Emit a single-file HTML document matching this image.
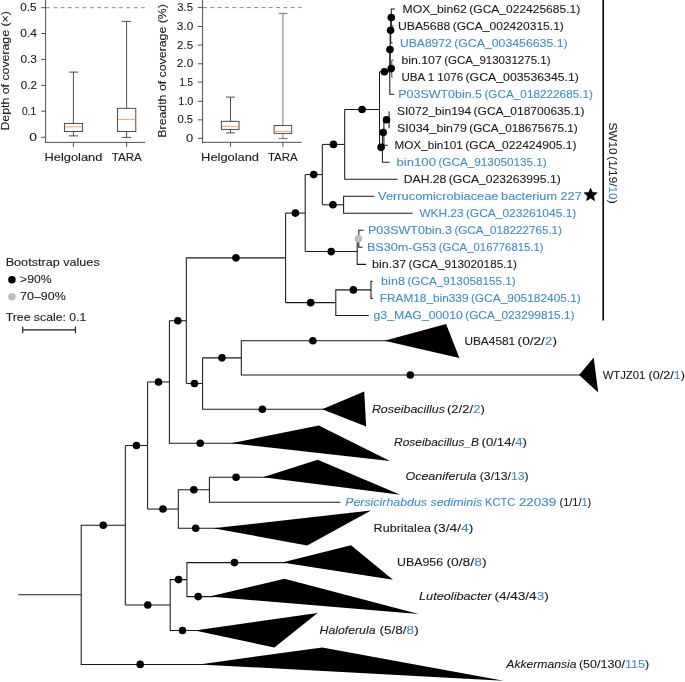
<!DOCTYPE html>
<html><head><meta charset="utf-8"><title>Phylogenetic tree</title>
<style>
html,body{margin:0;padding:0;background:#fff;}
svg{display:block;font-family:"Liberation Sans",sans-serif;will-change:transform;}
</style></head>
<body>
<svg width="685" height="682" viewBox="0 0 685 682">
<rect x="0" y="0" width="685" height="682" fill="#fff"/>
<line x1="45.6" y1="0" x2="45.6" y2="142.85" stroke="#3a3a3a" stroke-width="0.9" />
<line x1="45.15" y1="142.4" x2="145.2" y2="142.4" stroke="#3a3a3a" stroke-width="0.9" />
<line x1="41.2" y1="7.7" x2="45.6" y2="7.7" stroke="#3a3a3a" stroke-width="0.9" />
<text x="20.3" y="11.3" font-size="10.2" textLength="16.3" lengthAdjust="spacingAndGlyphs" xml:space="preserve"><tspan fill="#1a1a1a" stroke="#1a1a1a" stroke-width="0.1">0.5</tspan></text>
<line x1="41.2" y1="33.5" x2="45.6" y2="33.5" stroke="#3a3a3a" stroke-width="0.9" />
<text x="20.3" y="37.1" font-size="10.2" textLength="16.6" lengthAdjust="spacingAndGlyphs" xml:space="preserve"><tspan fill="#1a1a1a" stroke="#1a1a1a" stroke-width="0.1">0.4</tspan></text>
<line x1="41.2" y1="59.4" x2="45.6" y2="59.4" stroke="#3a3a3a" stroke-width="0.9" />
<text x="20.4" y="63" font-size="10.2" textLength="16.5" lengthAdjust="spacingAndGlyphs" xml:space="preserve"><tspan fill="#1a1a1a" stroke="#1a1a1a" stroke-width="0.1">0.3</tspan></text>
<line x1="41.2" y1="85.3" x2="45.6" y2="85.3" stroke="#3a3a3a" stroke-width="0.9" />
<text x="20.7" y="88.9" font-size="10.2" textLength="16.2" lengthAdjust="spacingAndGlyphs" xml:space="preserve"><tspan fill="#1a1a1a" stroke="#1a1a1a" stroke-width="0.1">0.2</tspan></text>
<line x1="41.2" y1="111.2" x2="45.6" y2="111.2" stroke="#3a3a3a" stroke-width="0.9" />
<text x="21.9" y="114.8" font-size="10.2" textLength="14.3" lengthAdjust="spacingAndGlyphs" xml:space="preserve"><tspan fill="#1a1a1a" stroke="#1a1a1a" stroke-width="0.1">0.1</tspan></text>
<line x1="41.2" y1="137.3" x2="45.6" y2="137.3" stroke="#3a3a3a" stroke-width="0.9" />
<text x="29.2" y="140.9" font-size="10.2" textLength="7.7" lengthAdjust="spacingAndGlyphs" xml:space="preserve"><tspan fill="#1a1a1a" stroke="#1a1a1a" stroke-width="0.1">0</tspan></text>
<line x1="46" y1="7.7" x2="145.2" y2="7.7" stroke="#8c8c8c" stroke-width="1.0" stroke-dasharray="4 3.3"/>
<line x1="73.4" y1="72.1" x2="73.4" y2="123.4" stroke="#3a3a3a" stroke-width="0.9" />
<line x1="73.4" y1="131.5" x2="73.4" y2="135.9" stroke="#3a3a3a" stroke-width="0.9" />
<line x1="68.8" y1="72.1" x2="78.1" y2="72.1" stroke="#3a3a3a" stroke-width="0.9" />
<line x1="68.8" y1="135.9" x2="78.1" y2="135.9" stroke="#3a3a3a" stroke-width="0.9" />
<rect x="64.4" y="123.4" width="18.2" height="8.1" fill="#fff" stroke="#3a3a3a" stroke-width="0.9"/>
<line x1="64.9" y1="126.8" x2="82.1" y2="126.8" stroke="#f4a259" stroke-width="1.0" />
<line x1="126.6" y1="21.4" x2="126.6" y2="108.3" stroke="#3a3a3a" stroke-width="0.9" />
<line x1="126.6" y1="131.5" x2="126.6" y2="137.4" stroke="#3a3a3a" stroke-width="0.9" />
<line x1="121.8" y1="21.4" x2="131.1" y2="21.4" stroke="#3a3a3a" stroke-width="0.9" />
<line x1="121.8" y1="137.4" x2="131.1" y2="137.4" stroke="#3a3a3a" stroke-width="0.9" />
<rect x="117.5" y="108.3" width="18.3" height="23.2" fill="#fff" stroke="#3a3a3a" stroke-width="0.9"/>
<line x1="118" y1="119.4" x2="135.3" y2="119.4" stroke="#f4a259" stroke-width="1.0" />
<line x1="73.4" y1="142.4" x2="73.4" y2="146.8" stroke="#3a3a3a" stroke-width="0.9" />
<line x1="126.6" y1="142.4" x2="126.6" y2="146.8" stroke="#3a3a3a" stroke-width="0.9" />
<text x="44.5" y="161" font-size="11.2" textLength="57.9" lengthAdjust="spacingAndGlyphs" xml:space="preserve"><tspan fill="#1a1a1a" stroke="#1a1a1a" stroke-width="0.1">Helgoland</tspan></text>
<text x="111.7" y="161" font-size="11.2" textLength="30.1" lengthAdjust="spacingAndGlyphs" xml:space="preserve"><tspan fill="#1a1a1a" stroke="#1a1a1a" stroke-width="0.1">TARA</tspan></text>
<text transform="translate(9.3,130.6) rotate(-90)" x="0" y="0" font-size="11.2" textLength="119.5" lengthAdjust="spacingAndGlyphs" xml:space="preserve"><tspan fill="#1a1a1a" stroke="#1a1a1a" stroke-width="0.1">Depth of coverage (×)</tspan></text>
<line x1="202.6" y1="0" x2="202.6" y2="142.75" stroke="#3a3a3a" stroke-width="0.9" />
<line x1="202.15" y1="142.3" x2="301.6" y2="142.3" stroke="#3a3a3a" stroke-width="0.9" />
<line x1="197.9" y1="7.6" x2="202.6" y2="7.6" stroke="#3a3a3a" stroke-width="0.9" />
<text x="177.3" y="11.2" font-size="10.2" textLength="15.8" lengthAdjust="spacingAndGlyphs" xml:space="preserve"><tspan fill="#1a1a1a" stroke="#1a1a1a" stroke-width="0.1">3.5</tspan></text>
<line x1="197.9" y1="26.5" x2="202.6" y2="26.5" stroke="#3a3a3a" stroke-width="0.9" />
<text x="176.8" y="30.1" font-size="10.2" textLength="16.4" lengthAdjust="spacingAndGlyphs" xml:space="preserve"><tspan fill="#1a1a1a" stroke="#1a1a1a" stroke-width="0.1">3.0</tspan></text>
<line x1="197.9" y1="45.1" x2="202.6" y2="45.1" stroke="#3a3a3a" stroke-width="0.9" />
<text x="177" y="48.7" font-size="10.2" textLength="16.1" lengthAdjust="spacingAndGlyphs" xml:space="preserve"><tspan fill="#1a1a1a" stroke="#1a1a1a" stroke-width="0.1">2.5</tspan></text>
<line x1="197.9" y1="63.8" x2="202.6" y2="63.8" stroke="#3a3a3a" stroke-width="0.9" />
<text x="176.8" y="67.4" font-size="10.2" textLength="16.4" lengthAdjust="spacingAndGlyphs" xml:space="preserve"><tspan fill="#1a1a1a" stroke="#1a1a1a" stroke-width="0.1">2.0</tspan></text>
<line x1="197.9" y1="82.1" x2="202.6" y2="82.1" stroke="#3a3a3a" stroke-width="0.9" />
<text x="179.4" y="85.7" font-size="10.2" textLength="13.6" lengthAdjust="spacingAndGlyphs" xml:space="preserve"><tspan fill="#1a1a1a" stroke="#1a1a1a" stroke-width="0.1">1.5</tspan></text>
<line x1="197.9" y1="101.3" x2="202.6" y2="101.3" stroke="#3a3a3a" stroke-width="0.9" />
<text x="178.2" y="104.9" font-size="10.2" textLength="15" lengthAdjust="spacingAndGlyphs" xml:space="preserve"><tspan fill="#1a1a1a" stroke="#1a1a1a" stroke-width="0.1">1.0</tspan></text>
<line x1="197.9" y1="119.85" x2="202.6" y2="119.85" stroke="#3a3a3a" stroke-width="0.9" />
<text x="177.4" y="123.45" font-size="10.2" textLength="15.6" lengthAdjust="spacingAndGlyphs" xml:space="preserve"><tspan fill="#1a1a1a" stroke="#1a1a1a" stroke-width="0.1">0.5</tspan></text>
<line x1="197.9" y1="138.3" x2="202.6" y2="138.3" stroke="#3a3a3a" stroke-width="0.9" />
<text x="186" y="141.9" font-size="10.2" textLength="7.2" lengthAdjust="spacingAndGlyphs" xml:space="preserve"><tspan fill="#1a1a1a" stroke="#1a1a1a" stroke-width="0.1">0</tspan></text>
<line x1="203" y1="7.6" x2="301.6" y2="7.6" stroke="#8c8c8c" stroke-width="1.0" stroke-dasharray="4 3.3"/>
<line x1="230.5" y1="97.1" x2="230.5" y2="121.3" stroke="#3a3a3a" stroke-width="0.9" />
<line x1="230.5" y1="129.4" x2="230.5" y2="132.9" stroke="#3a3a3a" stroke-width="0.9" />
<line x1="226" y1="97.1" x2="234.8" y2="97.1" stroke="#3a3a3a" stroke-width="0.9" />
<line x1="226" y1="132.9" x2="234.8" y2="132.9" stroke="#3a3a3a" stroke-width="0.9" />
<rect x="221.4" y="121.3" width="17.6" height="8.1" fill="#fff" stroke="#3a3a3a" stroke-width="0.9"/>
<line x1="221.9" y1="126.4" x2="238.5" y2="126.4" stroke="#f4a259" stroke-width="1.0" />
<line x1="282.9" y1="13.4" x2="282.9" y2="125.6" stroke="#6a6a6a" stroke-width="0.9" />
<line x1="282.9" y1="133.4" x2="282.9" y2="138.5" stroke="#6a6a6a" stroke-width="0.9" />
<line x1="278.6" y1="13.4" x2="287.5" y2="13.4" stroke="#6a6a6a" stroke-width="0.9" />
<line x1="278.6" y1="138.5" x2="287.5" y2="138.5" stroke="#6a6a6a" stroke-width="0.9" />
<rect x="274.1" y="125.6" width="17.6" height="7.8" fill="#fff" stroke="#3a3a3a" stroke-width="0.9"/>
<line x1="274.6" y1="131.4" x2="291.2" y2="131.4" stroke="#f4a259" stroke-width="1.0" />
<line x1="230.5" y1="142.3" x2="230.5" y2="146.7" stroke="#3a3a3a" stroke-width="0.9" />
<line x1="282.9" y1="142.3" x2="282.9" y2="146.7" stroke="#3a3a3a" stroke-width="0.9" />
<text x="201.1" y="161" font-size="11.2" textLength="57.9" lengthAdjust="spacingAndGlyphs" xml:space="preserve"><tspan fill="#1a1a1a" stroke="#1a1a1a" stroke-width="0.1">Helgoland</tspan></text>
<text x="267.9" y="161" font-size="11.2" textLength="29.7" lengthAdjust="spacingAndGlyphs" xml:space="preserve"><tspan fill="#1a1a1a" stroke="#1a1a1a" stroke-width="0.1">TARA</tspan></text>
<text transform="translate(166,137.7) rotate(-90)" x="0" y="0" font-size="11.2" textLength="133.6" lengthAdjust="spacingAndGlyphs" xml:space="preserve"><tspan fill="#1a1a1a" stroke="#1a1a1a" stroke-width="0.1">Breadth of coverage (%)</tspan></text>
<text x="5.7" y="266.4" font-size="11.6" textLength="94" lengthAdjust="spacingAndGlyphs" xml:space="preserve"><tspan fill="#1a1a1a" stroke="#1a1a1a" stroke-width="0.1">Bootstrap values</tspan></text>
<circle cx="11.9" cy="279.7" r="3.75" fill="#000"/>
<text x="20.1" y="283" font-size="11.6" textLength="31.4" lengthAdjust="spacingAndGlyphs" xml:space="preserve"><tspan fill="#1a1a1a" stroke="#1a1a1a" stroke-width="0.1">&gt;90%</tspan></text>
<circle cx="11.9" cy="296.8" r="3.75" fill="#bdbdbd"/>
<text x="20.1" y="300.1" font-size="11.6" textLength="45.6" lengthAdjust="spacingAndGlyphs" xml:space="preserve"><tspan fill="#1a1a1a" stroke="#1a1a1a" stroke-width="0.1">70–90%</tspan></text>
<text x="5.7" y="321" font-size="11.6" textLength="80.7" lengthAdjust="spacingAndGlyphs" xml:space="preserve"><tspan fill="#1a1a1a" stroke="#1a1a1a" stroke-width="0.1">Tree scale: 0.1</tspan></text>
<line x1="22.7" y1="329.9" x2="75.4" y2="329.9" stroke="#1a1a1a" stroke-width="1.1" />
<line x1="22.7" y1="326.6" x2="22.7" y2="333.2" stroke="#1a1a1a" stroke-width="1.1" />
<line x1="75.4" y1="326.6" x2="75.4" y2="333.2" stroke="#1a1a1a" stroke-width="1.1" />
<path d="M394.9 9.05H391.3V26.07H393.5" fill="none" stroke="#1a1a1a" stroke-width="1.05" />
<path d="M391.3 17.56H390.7V43.09H392.5" fill="none" stroke="#1a1a1a" stroke-width="1.05" />
<path d="M390.7 30.33H390.2V68.62H391.8" fill="none" stroke="#1a1a1a" stroke-width="1.05" />
<path d="M393.5 60.11H391.8V77.13H392.6" fill="none" stroke="#1a1a1a" stroke-width="0.8" />
<path d="M390.2 49.47H389.8V94.15H394.3" fill="none" stroke="#1a1a1a" stroke-width="1.05" />
<line x1="379.5" y1="71.81" x2="389.8" y2="71.81" stroke="#1a1a1a" stroke-width="1.05" />
<path d="M389.1 111.17V128.19" fill="none" stroke="#1a1a1a" stroke-width="1.05" />
<line x1="383.9" y1="119.68" x2="389.1" y2="119.68" stroke="#1a1a1a" stroke-width="1.05" />
<path d="M383.9 119.68V145.21H387.8" fill="none" stroke="#1a1a1a" stroke-width="1.05" />
<line x1="382.4" y1="132.44" x2="383.9" y2="132.44" stroke="#1a1a1a" stroke-width="1.05" />
<path d="M382.4 132.44V162.23H389.6" fill="none" stroke="#1a1a1a" stroke-width="1.05" />
<line x1="379.5" y1="147.34" x2="382.4" y2="147.34" stroke="#1a1a1a" stroke-width="1.05" />
<line x1="379.5" y1="71.81" x2="379.5" y2="147.34" stroke="#1a1a1a" stroke-width="1.05" />
<line x1="344.7" y1="109.57" x2="379.5" y2="109.57" stroke="#1a1a1a" stroke-width="1.05" />
<path d="M344.7 109.57V179.25H397.6" fill="none" stroke="#1a1a1a" stroke-width="1.05" />
<line x1="322.3" y1="144.41" x2="344.7" y2="144.41" stroke="#1a1a1a" stroke-width="1.05" />
<path d="M374.3 196.27H343.6V213.29H412.7" fill="none" stroke="#1a1a1a" stroke-width="1.05" />
<line x1="322.3" y1="204.78" x2="343.6" y2="204.78" stroke="#1a1a1a" stroke-width="1.05" />
<line x1="322.3" y1="144.41" x2="322.3" y2="204.78" stroke="#1a1a1a" stroke-width="1.05" />
<line x1="305.2" y1="174.6" x2="322.3" y2="174.6" stroke="#1a1a1a" stroke-width="1.05" />
<path d="M363.5 230.31H358.8V247.33H362.5" fill="none" stroke="#1a1a1a" stroke-width="1.05" />
<line x1="357.2" y1="238.82" x2="358.8" y2="238.82" stroke="#1a1a1a" stroke-width="1.05" />
<path d="M357.2 238.82V264.35H366.2" fill="none" stroke="#1a1a1a" stroke-width="1.05" />
<line x1="305.2" y1="251.58" x2="357.2" y2="251.58" stroke="#1a1a1a" stroke-width="1.05" />
<line x1="305.2" y1="174.6" x2="305.2" y2="251.58" stroke="#1a1a1a" stroke-width="1.05" />
<line x1="285.6" y1="213.09" x2="305.2" y2="213.09" stroke="#1a1a1a" stroke-width="1.05" />
<path d="M372.6 281.37H371.0V298.39H372.6" fill="none" stroke="#1a1a1a" stroke-width="1.05" />
<path d="M371.0 289.88H335.8V315.41H368.7" fill="none" stroke="#1a1a1a" stroke-width="1.05" />
<line x1="285.6" y1="302.64" x2="335.8" y2="302.64" stroke="#1a1a1a" stroke-width="1.05" />
<line x1="285.6" y1="213.09" x2="285.6" y2="302.64" stroke="#1a1a1a" stroke-width="1.05" />
<line x1="186.3" y1="257.87" x2="285.6" y2="257.87" stroke="#1a1a1a" stroke-width="1.05" />
<path d="M388.5 340.7H241.3V375.0H582" fill="none" stroke="#1a1a1a" stroke-width="1.05" />
<line x1="202.6" y1="357.85" x2="241.3" y2="357.85" stroke="#1a1a1a" stroke-width="1.05" />
<path d="M202.6 357.85V409.2H325.5" fill="none" stroke="#1a1a1a" stroke-width="1.05" />
<line x1="186.3" y1="383.52" x2="202.6" y2="383.52" stroke="#1a1a1a" stroke-width="1.05" />
<line x1="186.3" y1="257.87" x2="186.3" y2="383.52" stroke="#1a1a1a" stroke-width="1.05" />
<line x1="169.4" y1="320.7" x2="186.3" y2="320.7" stroke="#1a1a1a" stroke-width="1.05" />
<path d="M169.4 320.7V443.2H236" fill="none" stroke="#1a1a1a" stroke-width="1.05" />
<line x1="147.6" y1="381.95" x2="169.4" y2="381.95" stroke="#1a1a1a" stroke-width="1.05" />
<path d="M266.5 477.3H209.4V502.3H340.4" fill="none" stroke="#1a1a1a" stroke-width="1.05" />
<path d="M209.4 489.8H178.3V528.3H218" fill="none" stroke="#1a1a1a" stroke-width="1.05" />
<line x1="147.6" y1="509.05" x2="178.3" y2="509.05" stroke="#1a1a1a" stroke-width="1.05" />
<line x1="147.6" y1="381.95" x2="147.6" y2="509.05" stroke="#1a1a1a" stroke-width="1.05" />
<line x1="125.3" y1="445.5" x2="147.6" y2="445.5" stroke="#1a1a1a" stroke-width="1.05" />
<path d="M286 562.6H186.9V596.6H214" fill="none" stroke="#1a1a1a" stroke-width="1.05" />
<path d="M186.9 579.6H170.2V630.5H199" fill="none" stroke="#1a1a1a" stroke-width="1.05" />
<line x1="125.3" y1="605.05" x2="170.2" y2="605.05" stroke="#1a1a1a" stroke-width="1.05" />
<line x1="125.3" y1="445.5" x2="125.3" y2="605.05" stroke="#1a1a1a" stroke-width="1.05" />
<path d="M125.3 525.27H81.2V664.4H205" fill="none" stroke="#1a1a1a" stroke-width="1.05" />
<line x1="18.2" y1="594.84" x2="81.2" y2="594.84" stroke="#1a1a1a" stroke-width="1.05" />
<polygon points="384.4,340.7 446.1,323.9 459.4,357.9" fill="#000"/>
<polygon points="579.1,375 593.7,357.4 598.2,392.5" fill="#000"/>
<polygon points="322.1,409.2 364.2,391.5 366.2,426.5" fill="#000"/>
<polygon points="231.1,443.2 318.8,425.5 390,460.9" fill="#000"/>
<polygon points="262.8,477.3 317.7,459.8 400.3,494.7" fill="#000"/>
<polygon points="213.1,528.3 371,510.4 307.2,545.4" fill="#000"/>
<polygon points="282,562.6 351,545.2 393,579.8" fill="#000"/>
<polygon points="209.4,596.6 284.5,578.7 418.6,614" fill="#000"/>
<polygon points="194.8,630.5 317.6,612.9 274.4,647.5" fill="#000"/>
<polygon points="199,664.4 322.2,647.5 503.6,680.8" fill="#000"/>
<circle cx="391.3" cy="17.56" r="3.8" fill="#000"/>
<circle cx="390.6" cy="30.33" r="3.8" fill="#000"/>
<circle cx="390" cy="49.47" r="3.8" fill="#000"/>
<circle cx="391.2" cy="68.62" r="3.8" fill="#000"/>
<circle cx="384.4" cy="71.81" r="3.8" fill="#000"/>
<circle cx="386.5" cy="119.68" r="3.8" fill="#000"/>
<circle cx="383.2" cy="132.44" r="3.8" fill="#000"/>
<circle cx="381.1" cy="147.34" r="3.8" fill="#000"/>
<circle cx="362.1" cy="109.57" r="3.8" fill="#000"/>
<circle cx="333.5" cy="144.41" r="3.8" fill="#000"/>
<circle cx="332.95" cy="204.78" r="3.8" fill="#000"/>
<circle cx="313.75" cy="174.6" r="3.8" fill="#000"/>
<circle cx="331.2" cy="251.58" r="3.8" fill="#000"/>
<circle cx="295.4" cy="213.09" r="3.8" fill="#000"/>
<circle cx="353.4" cy="289.88" r="3.8" fill="#000"/>
<circle cx="310.7" cy="302.64" r="3.8" fill="#000"/>
<circle cx="235.95" cy="257.87" r="3.8" fill="#000"/>
<circle cx="312.85" cy="340.7" r="3.8" fill="#000"/>
<circle cx="410.3" cy="375" r="3.8" fill="#000"/>
<circle cx="221.95" cy="357.85" r="3.8" fill="#000"/>
<circle cx="262.35" cy="409.2" r="3.8" fill="#000"/>
<circle cx="194.45" cy="383.52" r="3.8" fill="#000"/>
<circle cx="177.85" cy="320.7" r="3.8" fill="#000"/>
<circle cx="200.25" cy="443.2" r="3.8" fill="#000"/>
<circle cx="158.5" cy="381.95" r="3.8" fill="#000"/>
<circle cx="236.1" cy="477.3" r="3.8" fill="#000"/>
<circle cx="193.85" cy="489.8" r="3.8" fill="#000"/>
<circle cx="195.7" cy="528.3" r="3.8" fill="#000"/>
<circle cx="162.95" cy="509.05" r="3.8" fill="#000"/>
<circle cx="136.45" cy="445.5" r="3.8" fill="#000"/>
<circle cx="234.45" cy="562.6" r="3.8" fill="#000"/>
<circle cx="198.15" cy="596.6" r="3.8" fill="#000"/>
<circle cx="178.55" cy="579.6" r="3.8" fill="#000"/>
<circle cx="182.5" cy="630.5" r="3.8" fill="#000"/>
<circle cx="147.75" cy="605.05" r="3.8" fill="#000"/>
<circle cx="103.25" cy="525.27" r="3.8" fill="#000"/>
<circle cx="140.2" cy="664.4" r="3.8" fill="#000"/>
<circle cx="358.4" cy="238.82" r="3.8" fill="#bdbdbd"/>
<text x="402.5" y="12.65" font-size="11.4" textLength="64.4" lengthAdjust="spacingAndGlyphs" xml:space="preserve"><tspan fill="#1a1a1a" stroke="#1a1a1a" stroke-width="0.1">MOX_bin62</tspan></text>
<text x="469.3" y="12.75" font-size="11.6" textLength="110.9" lengthAdjust="spacingAndGlyphs" xml:space="preserve"><tspan fill="#1a1a1a" stroke="#1a1a1a" stroke-width="0.1">(GCA_022425685.1)</tspan></text>
<text x="397.9" y="29.67" font-size="11.4" textLength="52.4" lengthAdjust="spacingAndGlyphs" xml:space="preserve"><tspan fill="#1a1a1a" stroke="#1a1a1a" stroke-width="0.1">UBA5688</tspan></text>
<text x="452.7" y="29.77" font-size="11.6" textLength="111.2" lengthAdjust="spacingAndGlyphs" xml:space="preserve"><tspan fill="#1a1a1a" stroke="#1a1a1a" stroke-width="0.1">(GCA_002420315.1)</tspan></text>
<text x="400" y="46.69" font-size="11.4" textLength="51.8" lengthAdjust="spacingAndGlyphs" xml:space="preserve"><tspan fill="#3d8fc6" stroke="#3d8fc6" stroke-width="0.1">UBA8972</tspan></text>
<text x="454.2" y="46.79" font-size="11.6" textLength="113.4" lengthAdjust="spacingAndGlyphs" xml:space="preserve"><tspan fill="#3d8fc6" stroke="#3d8fc6" stroke-width="0.1">(GCA_003456635.1)</tspan></text>
<text x="401.4" y="63.71" font-size="11.4" textLength="40.4" lengthAdjust="spacingAndGlyphs" xml:space="preserve"><tspan fill="#1a1a1a" stroke="#1a1a1a" stroke-width="0.1">bin.107</tspan></text>
<text x="444.2" y="63.81" font-size="11.6" textLength="106.3" lengthAdjust="spacingAndGlyphs" xml:space="preserve"><tspan fill="#1a1a1a" stroke="#1a1a1a" stroke-width="0.1">(GCA_913031275.1)</tspan></text>
<text x="401.4" y="80.73" font-size="11.4" textLength="61.7" lengthAdjust="spacingAndGlyphs" xml:space="preserve"><tspan fill="#1a1a1a" stroke="#1a1a1a" stroke-width="0.1">UBA 1 1076</tspan></text>
<text x="465.5" y="80.83" font-size="11.6" textLength="113.4" lengthAdjust="spacingAndGlyphs" xml:space="preserve"><tspan fill="#1a1a1a" stroke="#1a1a1a" stroke-width="0.1">(GCA_003536345.1)</tspan></text>
<text x="398.3" y="97.75" font-size="11.4" textLength="83.7" lengthAdjust="spacingAndGlyphs" xml:space="preserve"><tspan fill="#3d8fc6" stroke="#3d8fc6" stroke-width="0.1">P03SWT0bin.5</tspan></text>
<text x="484.4" y="97.85" font-size="11.6" textLength="108.6" lengthAdjust="spacingAndGlyphs" xml:space="preserve"><tspan fill="#3d8fc6" stroke="#3d8fc6" stroke-width="0.1">(GCA_018222685.1)</tspan></text>
<text x="397" y="114.77" font-size="11.4" textLength="74.2" lengthAdjust="spacingAndGlyphs" xml:space="preserve"><tspan fill="#1a1a1a" stroke="#1a1a1a" stroke-width="0.1">SI072_bin194</tspan></text>
<text x="473.6" y="114.87" font-size="11.6" textLength="110.9" lengthAdjust="spacingAndGlyphs" xml:space="preserve"><tspan fill="#1a1a1a" stroke="#1a1a1a" stroke-width="0.1">(GCA_018700635.1)</tspan></text>
<text x="397" y="131.79" font-size="11.4" textLength="69.9" lengthAdjust="spacingAndGlyphs" xml:space="preserve"><tspan fill="#1a1a1a" stroke="#1a1a1a" stroke-width="0.1">SI034_bin79</tspan></text>
<text x="469.3" y="131.89" font-size="11.6" textLength="108.4" lengthAdjust="spacingAndGlyphs" xml:space="preserve"><tspan fill="#1a1a1a" stroke="#1a1a1a" stroke-width="0.1">(GCA_018675675.1)</tspan></text>
<text x="394.5" y="148.81" font-size="11.4" textLength="68.4" lengthAdjust="spacingAndGlyphs" xml:space="preserve"><tspan fill="#1a1a1a" stroke="#1a1a1a" stroke-width="0.1">MOX_bin101</tspan></text>
<text x="465.3" y="148.91" font-size="11.6" textLength="111.1" lengthAdjust="spacingAndGlyphs" xml:space="preserve"><tspan fill="#1a1a1a" stroke="#1a1a1a" stroke-width="0.1">(GCA_022424905.1)</tspan></text>
<text x="396.5" y="165.83" font-size="11.4" textLength="39.5" lengthAdjust="spacingAndGlyphs" xml:space="preserve"><tspan fill="#3d8fc6" stroke="#3d8fc6" stroke-width="0.1">bin100</tspan></text>
<text x="438.4" y="165.93" font-size="11.6" textLength="108.4" lengthAdjust="spacingAndGlyphs" xml:space="preserve"><tspan fill="#3d8fc6" stroke="#3d8fc6" stroke-width="0.1">(GCA_913050135.1)</tspan></text>
<text x="403.8" y="182.85" font-size="11.4" textLength="42.6" lengthAdjust="spacingAndGlyphs" xml:space="preserve"><tspan fill="#1a1a1a" stroke="#1a1a1a" stroke-width="0.1">DAH.28</tspan></text>
<text x="448.8" y="182.95" font-size="11.6" textLength="111.9" lengthAdjust="spacingAndGlyphs" xml:space="preserve"><tspan fill="#1a1a1a" stroke="#1a1a1a" stroke-width="0.1">(GCA_023263995.1)</tspan></text>
<text x="419.4" y="216.89" font-size="11.4" textLength="44.1" lengthAdjust="spacingAndGlyphs" xml:space="preserve"><tspan fill="#3d8fc6" stroke="#3d8fc6" stroke-width="0.1">WKH.23</tspan></text>
<text x="465.9" y="216.99" font-size="11.6" textLength="110.4" lengthAdjust="spacingAndGlyphs" xml:space="preserve"><tspan fill="#3d8fc6" stroke="#3d8fc6" stroke-width="0.1">(GCA_023261045.1)</tspan></text>
<text x="368" y="233.91" font-size="11.4" textLength="84" lengthAdjust="spacingAndGlyphs" xml:space="preserve"><tspan fill="#3d8fc6" stroke="#3d8fc6" stroke-width="0.1">P03SWT0bin.3</tspan></text>
<text x="454.4" y="234.01" font-size="11.6" textLength="107.6" lengthAdjust="spacingAndGlyphs" xml:space="preserve"><tspan fill="#3d8fc6" stroke="#3d8fc6" stroke-width="0.1">(GCA_018222765.1)</tspan></text>
<text x="366.9" y="250.93" font-size="11.4" textLength="69.5" lengthAdjust="spacingAndGlyphs" xml:space="preserve"><tspan fill="#3d8fc6" stroke="#3d8fc6" stroke-width="0.1">BS30m-G53</tspan></text>
<text x="438.8" y="251.03" font-size="11.6" textLength="104.8" lengthAdjust="spacingAndGlyphs" xml:space="preserve"><tspan fill="#3d8fc6" stroke="#3d8fc6" stroke-width="0.1">(GCA_016776815.1)</tspan></text>
<text x="372.1" y="267.95" font-size="11.4" textLength="34.1" lengthAdjust="spacingAndGlyphs" xml:space="preserve"><tspan fill="#1a1a1a" stroke="#1a1a1a" stroke-width="0.1">bin.37</tspan></text>
<text x="408.6" y="268.05" font-size="11.6" textLength="108.3" lengthAdjust="spacingAndGlyphs" xml:space="preserve"><tspan fill="#1a1a1a" stroke="#1a1a1a" stroke-width="0.1">(GCA_913020185.1)</tspan></text>
<text x="381.1" y="284.97" font-size="11.4" textLength="23.9" lengthAdjust="spacingAndGlyphs" xml:space="preserve"><tspan fill="#3d8fc6" stroke="#3d8fc6" stroke-width="0.1">bin8</tspan></text>
<text x="407.4" y="285.07" font-size="11.6" textLength="108.4" lengthAdjust="spacingAndGlyphs" xml:space="preserve"><tspan fill="#3d8fc6" stroke="#3d8fc6" stroke-width="0.1">(GCA_913058155.1)</tspan></text>
<text x="379.8" y="301.99" font-size="11.4" textLength="88.7" lengthAdjust="spacingAndGlyphs" xml:space="preserve"><tspan fill="#3d8fc6" stroke="#3d8fc6" stroke-width="0.1">FRAM18_bin339</tspan></text>
<text x="470.9" y="302.09" font-size="11.6" textLength="109.9" lengthAdjust="spacingAndGlyphs" xml:space="preserve"><tspan fill="#3d8fc6" stroke="#3d8fc6" stroke-width="0.1">(GCA_905182405.1)</tspan></text>
<text x="373.5" y="319.01" font-size="11.4" textLength="89.3" lengthAdjust="spacingAndGlyphs" xml:space="preserve"><tspan fill="#3d8fc6" stroke="#3d8fc6" stroke-width="0.1">g3_MAG_00010</tspan></text>
<text x="465.2" y="319.11" font-size="11.6" textLength="109.3" lengthAdjust="spacingAndGlyphs" xml:space="preserve"><tspan fill="#3d8fc6" stroke="#3d8fc6" stroke-width="0.1">(GCA_023299815.1)</tspan></text>
<text x="378.1" y="199.87" font-size="11.1" textLength="120.4" lengthAdjust="spacingAndGlyphs" xml:space="preserve"><tspan fill="#3d8fc6" stroke="#3d8fc6" stroke-width="0.1">Verrucomicrobiaceae</tspan></text>
<text x="501.1" y="199.87" font-size="11.1" textLength="80.7" lengthAdjust="spacingAndGlyphs" xml:space="preserve"><tspan fill="#3d8fc6" stroke="#3d8fc6" stroke-width="0.1">bacterium 227</tspan></text>
<polygon points="590.6,188 592.51,192.37 597.26,192.84 593.69,196 594.71,200.66 590.6,198.25 586.49,200.66 587.51,196 583.94,192.84 588.69,192.37" fill="#000" stroke="#000" stroke-width="0.5" stroke-linejoin="round"/>
<line x1="603.2" y1="0" x2="603.2" y2="320.6" stroke="#111" stroke-width="1.7" />
<text transform="translate(609,122.5) rotate(90)" x="0" y="0" font-size="11.8" textLength="32.1" lengthAdjust="spacingAndGlyphs" xml:space="preserve"><tspan fill="#1a1a1a" stroke="#1a1a1a" stroke-width="0.1">SW10</tspan></text>
<text transform="translate(609,156.3) rotate(90)" x="0" y="0" font-size="11.8" textLength="47.3" lengthAdjust="spacingAndGlyphs" xml:space="preserve"><tspan fill="#1a1a1a" stroke="#1a1a1a" stroke-width="0.1">(1/19/</tspan><tspan fill="#3d8fc6" stroke="#3d8fc6" stroke-width="0.1">10</tspan><tspan fill="#1a1a1a" stroke="#1a1a1a" stroke-width="0.1">)</tspan></text>
<text x="464.4" y="344.8" font-size="11.2" textLength="50.8" lengthAdjust="spacingAndGlyphs" xml:space="preserve"><tspan fill="#1a1a1a" stroke="#1a1a1a" stroke-width="0.1">UBA4581</tspan></text>
<text x="517.6" y="344.8" font-size="11.6" textLength="39.4" lengthAdjust="spacingAndGlyphs" xml:space="preserve"><tspan fill="#1a1a1a" stroke="#1a1a1a" stroke-width="0.1">(0/2/</tspan><tspan fill="#3d8fc6" stroke="#3d8fc6" stroke-width="0.1">2</tspan><tspan fill="#1a1a1a" stroke="#1a1a1a" stroke-width="0.1">)</tspan></text>
<text x="602.7" y="378.7" font-size="11.2" textLength="42.6" lengthAdjust="spacingAndGlyphs" xml:space="preserve"><tspan fill="#1a1a1a" stroke="#1a1a1a" stroke-width="0.1">WTJZ01</tspan></text>
<text x="648.6" y="378.7" font-size="11.6" textLength="36.3" lengthAdjust="spacingAndGlyphs" xml:space="preserve"><tspan fill="#1a1a1a" stroke="#1a1a1a" stroke-width="0.1">(0/2/</tspan><tspan fill="#3d8fc6" stroke="#3d8fc6" stroke-width="0.1">1</tspan><tspan fill="#1a1a1a" stroke="#1a1a1a" stroke-width="0.1">)</tspan></text>
<text x="371.9" y="412.7" font-size="11.2" textLength="73" lengthAdjust="spacingAndGlyphs" xml:space="preserve"><tspan fill="#1a1a1a" stroke="#1a1a1a" stroke-width="0.1" font-style="italic">Roseibacillus</tspan></text>
<text x="447" y="412.7" font-size="11.6" textLength="37.8" lengthAdjust="spacingAndGlyphs" xml:space="preserve"><tspan fill="#1a1a1a" stroke="#1a1a1a" stroke-width="0.1">(2/2/</tspan><tspan fill="#3d8fc6" stroke="#3d8fc6" stroke-width="0.1">2</tspan><tspan fill="#1a1a1a" stroke="#1a1a1a" stroke-width="0.1">)</tspan></text>
<text x="394" y="446.3" font-size="11.2" textLength="85" lengthAdjust="spacingAndGlyphs" xml:space="preserve"><tspan fill="#1a1a1a" stroke="#1a1a1a" stroke-width="0.1" font-style="italic">Roseibacillus_B</tspan></text>
<text x="481.5" y="446.3" font-size="11.6" textLength="45.4" lengthAdjust="spacingAndGlyphs" xml:space="preserve"><tspan fill="#1a1a1a" stroke="#1a1a1a" stroke-width="0.1">(0/14/</tspan><tspan fill="#3d8fc6" stroke="#3d8fc6" stroke-width="0.1">4</tspan><tspan fill="#1a1a1a" stroke="#1a1a1a" stroke-width="0.1">)</tspan></text>
<text x="405.4" y="480.3" font-size="11.2" textLength="71" lengthAdjust="spacingAndGlyphs" xml:space="preserve"><tspan fill="#1a1a1a" stroke="#1a1a1a" stroke-width="0.1" font-style="italic">Oceaniferula</tspan></text>
<text x="479.8" y="480.3" font-size="11.6" textLength="48.8" lengthAdjust="spacingAndGlyphs" xml:space="preserve"><tspan fill="#1a1a1a" stroke="#1a1a1a" stroke-width="0.1">(3/13/</tspan><tspan fill="#3d8fc6" stroke="#3d8fc6" stroke-width="0.1">13</tspan><tspan fill="#1a1a1a" stroke="#1a1a1a" stroke-width="0.1">)</tspan></text>
<text x="345.2" y="506.2" font-size="11.1" textLength="81.8" lengthAdjust="spacingAndGlyphs" xml:space="preserve"><tspan fill="#3d8fc6" stroke="#3d8fc6" stroke-width="0.1" font-style="italic">Persicirhabdus</tspan></text>
<text x="430.5" y="506.2" font-size="11.1" textLength="51.7" lengthAdjust="spacingAndGlyphs" xml:space="preserve"><tspan fill="#3d8fc6" stroke="#3d8fc6" stroke-width="0.1" font-style="italic">sediminis</tspan></text>
<text x="485" y="506.2" font-size="11.1" textLength="30.2" lengthAdjust="spacingAndGlyphs" xml:space="preserve"><tspan fill="#3d8fc6" stroke="#3d8fc6" stroke-width="0.1">KCTC</tspan></text>
<text x="518.9" y="506.2" font-size="11.6" textLength="37.3" lengthAdjust="spacingAndGlyphs" xml:space="preserve"><tspan fill="#3d8fc6" stroke="#3d8fc6" stroke-width="0.1">22039</tspan></text>
<text x="559.5" y="506.2" font-size="11.6" textLength="31.7" lengthAdjust="spacingAndGlyphs" xml:space="preserve"><tspan fill="#1a1a1a" stroke="#1a1a1a" stroke-width="0.1">(1/1/</tspan><tspan fill="#3d8fc6" stroke="#3d8fc6" stroke-width="0.1">1</tspan><tspan fill="#1a1a1a" stroke="#1a1a1a" stroke-width="0.1">)</tspan></text>
<text x="373.6" y="531.5" font-size="11.2" textLength="57.3" lengthAdjust="spacingAndGlyphs" xml:space="preserve"><tspan fill="#1a1a1a" stroke="#1a1a1a" stroke-width="0.1">Rubritalea</tspan></text>
<text x="433.5" y="531.5" font-size="11.6" textLength="39.9" lengthAdjust="spacingAndGlyphs" xml:space="preserve"><tspan fill="#1a1a1a" stroke="#1a1a1a" stroke-width="0.1">(3/4/</tspan><tspan fill="#3d8fc6" stroke="#3d8fc6" stroke-width="0.1">4</tspan><tspan fill="#1a1a1a" stroke="#1a1a1a" stroke-width="0.1">)</tspan></text>
<text x="397.1" y="565.5" font-size="11.2" textLength="46" lengthAdjust="spacingAndGlyphs" xml:space="preserve"><tspan fill="#1a1a1a" stroke="#1a1a1a" stroke-width="0.1">UBA956</tspan></text>
<text x="446.4" y="565.5" font-size="11.6" textLength="40.2" lengthAdjust="spacingAndGlyphs" xml:space="preserve"><tspan fill="#1a1a1a" stroke="#1a1a1a" stroke-width="0.1">(0/8/</tspan><tspan fill="#3d8fc6" stroke="#3d8fc6" stroke-width="0.1">8</tspan><tspan fill="#1a1a1a" stroke="#1a1a1a" stroke-width="0.1">)</tspan></text>
<text x="419" y="599.6" font-size="11.2" textLength="72.8" lengthAdjust="spacingAndGlyphs" xml:space="preserve"><tspan fill="#1a1a1a" stroke="#1a1a1a" stroke-width="0.1" font-style="italic">Luteolibacter</tspan></text>
<text x="494.4" y="599.6" font-size="11.6" textLength="54.4" lengthAdjust="spacingAndGlyphs" xml:space="preserve"><tspan fill="#1a1a1a" stroke="#1a1a1a" stroke-width="0.1">(4/43/4</tspan><tspan fill="#3d8fc6" stroke="#3d8fc6" stroke-width="0.1">3</tspan><tspan fill="#1a1a1a" stroke="#1a1a1a" stroke-width="0.1">)</tspan></text>
<text x="319.6" y="633.6" font-size="11.2" textLength="55.9" lengthAdjust="spacingAndGlyphs" xml:space="preserve"><tspan fill="#1a1a1a" stroke="#1a1a1a" stroke-width="0.1" font-style="italic">Haloferula</tspan></text>
<text x="379.4" y="633.6" font-size="11.6" textLength="39.3" lengthAdjust="spacingAndGlyphs" xml:space="preserve"><tspan fill="#1a1a1a" stroke="#1a1a1a" stroke-width="0.1">(5/8/</tspan><tspan fill="#3d8fc6" stroke="#3d8fc6" stroke-width="0.1">8</tspan><tspan fill="#1a1a1a" stroke="#1a1a1a" stroke-width="0.1">)</tspan></text>
<text x="506.3" y="667.6" font-size="11.2" textLength="70.2" lengthAdjust="spacingAndGlyphs" xml:space="preserve"><tspan fill="#1a1a1a" stroke="#1a1a1a" stroke-width="0.1" font-style="italic">Akkermansia</tspan></text>
<text x="578.9" y="667.6" font-size="11.6" textLength="70.2" lengthAdjust="spacingAndGlyphs" xml:space="preserve"><tspan fill="#1a1a1a" stroke="#1a1a1a" stroke-width="0.1">(50/130/</tspan><tspan fill="#3d8fc6" stroke="#3d8fc6" stroke-width="0.1">115</tspan><tspan fill="#1a1a1a" stroke="#1a1a1a" stroke-width="0.1">)</tspan></text>
</svg>
</body></html>
